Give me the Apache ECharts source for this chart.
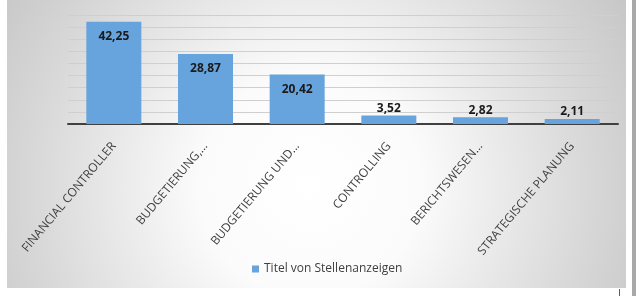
<!DOCTYPE html>
<html>
<head>
<meta charset="utf-8">
<script src="https://cdn.jsdelivr.net/npm/echarts@6/dist/echarts.min.js"></script>
<style>
  html, body { margin: 0; padding: 0; background: #fff; }
  #chart { width: 636px; height: 296px; }
</style>
</head>
<body>
<div id="chart"></div>
<script>
var kategorien = ['FINANCIAL CONTROLLER', 'BUDGETIERUNG,…', 'BUDGETIERUNG UND…', 'CONTROLLING', 'BERICHTSWESEN…', 'STRATEGISCHE PLANUNG'];
var werte = [42.25, 28.87, 20.42, 3.52, 2.82, 2.11];
var serienName = 'Titel von Stellenanzeigen';

var myChart = echarts.init(document.getElementById('chart'));

var balken = werte.map(function (v) {
    // grosse Balken: Wert innen oben, kleine: darueber
    return {
        value: v,
        label: v > 10 ? {position: 'insideTop', distance: 9} : {position: 'top', distance: 1}
    };
});

option = {
    animation: false,
    textStyle: {fontFamily: 'Open Sans'},
    graphic: [
        {
            type: 'rect',
            z: -10,
            shape: {x: 7, y: 0, width: 619, height: 288},
            style: {
                // globale Koordinaten, Mitte hell
                fill: new echarts.graphic.RadialGradient(310, 185, 370, [
                    {offset: 0, color: '#ffffff'},
                    {offset: 0.3, color: '#fbfbfb'},
                    {offset: 0.75, color: '#d8d8d8'},
                    {offset: 1, color: '#c6c6c6'}
                ], true)
            }
        },
        {
            type: 'rect',
            z: -10,
            shape: {x: 632, y: 0, width: 4, height: 296},
            style: {fill: '#a8a8a8'}
        },
        {
            type: 'line',
            z: -10,
            shape: {x1: 619.5, y1: 289, x2: 619.5, y2: 296},
            style: {stroke: '#606060', lineWidth: 1}
        }
    ],
    color: ['#67a3dc'],
    legend: {
        data: [{name: serienName, icon: 'rect'}],
        left: 247,
        top: 258,
        itemWidth: 7,
        itemHeight: 7,
        itemGap: 5,
        textStyle: {color: '#404040', fontSize: 12, fontFamily: 'Open Sans'}
    },
    grid: {
        left: 68,
        right: 18,
        top: 15,
        bottom: 172
    },
    xAxis: {
        type: 'category',
        data: kategorien,
        axisTick: {show: false},
        axisLine: {lineStyle: {color: '#404040', width: 2}},
        axisLabel: {
            rotate: 50,
            margin: 20,
            interval: 0,
            color: '#404040',
            fontSize: 12,
            fontFamily: 'Open Sans'
        }
    },
    yAxis: {
        type: 'value',
        min: 0,
        max: 45,
        interval: 5,
        axisLabel: {show: false},
        axisLine: {show: false},
        axisTick: {show: false},
        splitLine: {lineStyle: {color: '#cfcfcf', width: 1}}
    },
    series: [
        {
            name: serienName,
            type: 'bar',
            barCategoryGap: '40%',
            data: balken,
            label: {
                show: true,
                color: '#1a1a1a',
                fontWeight: 'bold',
                fontSize: 12,
                fontFamily: 'Open Sans',
                formatter: function (p) {
                    return p.value.toFixed(2).replace('.', ',');
                }
            }
        }
    ]
};

myChart.setOption(option);
</script>
</body>
</html>
